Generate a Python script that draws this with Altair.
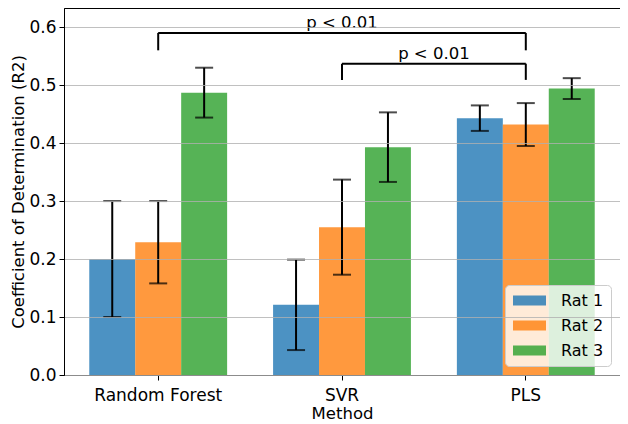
import altair as alt
import pandas as pd

methods = ["Random Forest", "SVR", "PLS"]
rats = ["Rat 1", "Rat 2", "Rat 3"]
rat1_mean = [0.200, 0.121, 0.443]
rat1_err = [0.100, 0.078, 0.022]
rat2_mean = [0.229, 0.255, 0.432]
rat2_err = [0.071, 0.082, 0.037]
rat3_mean = [0.487, 0.393, 0.494]
rat3_err = [0.043, 0.060, 0.018]
colors = ["#1f77b4", "#ff7f0e", "#2ca02c"]
y_ticks = [0.0, 0.1, 0.2, 0.3, 0.4, 0.5, 0.6]

# significance brackets (method index of the two ends)
bracket_start = [0, 1]
bracket_end = [2, 2]
bracket_y = [0.590, 0.537]
bracket_tip = [0.560, 0.509]
bracket_label = ["p < 0.01", "p < 0.01"]

FONT = "DejaVu Sans"
YTITLE = "Coefficient of Determination (R2)"
YDOM = [0, 0.633]

rows = []
for rat, means, errs in zip(rats, [rat1_mean, rat2_mean, rat3_mean], [rat1_err, rat2_err, rat3_err]):
    for m, v, e in zip(methods, means, errs):
        rows.append({"Method": m, "Rat": rat, "mean": v, "lo": v - e, "hi": v + e})
df = pd.DataFrame(rows)

br = pd.DataFrame({"start": bracket_start, "end": bracket_end, "ybar": bracket_y,
                   "ytip": bracket_tip, "label": bracket_label})

yscale = alt.Scale(domain=YDOM, nice=False, zero=True)
xscale = alt.Scale(domain=methods, paddingInner=0.25, paddingOuter=0.1375)
offscale = alt.Scale(domain=rats, paddingInner=0, paddingOuter=0)

xenc = alt.X("Method:N", scale=xscale,
             axis=alt.Axis(title="Method", labelAngle=0, grid=False, tickSize=5,
                           labelPadding=7, titlePadding=2))
xoff = alt.XOffset("Rat:N", scale=offscale)
yaxis = alt.Axis(values=y_ticks, format=".1f", grid=True, zindex=1, tickSize=5,
                 labelPadding=3, titlePadding=2)

bars = alt.Chart(df).mark_bar(opacity=0.8).encode(
    x=xenc, xOffset=xoff,
    y=alt.Y("mean:Q", scale=yscale, axis=yaxis, title=YTITLE),
    color=alt.Color("Rat:N", scale=alt.Scale(domain=rats, range=colors),
                    legend=alt.Legend(title=None, orient="bottom-right", offset=9,
                                      padding=7, fillColor="rgba(255,255,255,0.8)",
                                      strokeColor="#cccccc", cornerRadius=4,
                                      labelFontSize=16, labelFont=FONT, labelColor="black",
                                      symbolType="M-2,-0.6H2V0.6H-2Z", symbolSize=272.25,
                                      symbolOffset=9, symbolOpacity=0.8, symbolStrokeWidth=0,
                                      rowPadding=8, labelOffset=23)),
)

err = alt.Chart(df).mark_rule(color="black", strokeWidth=2).encode(
    x=xenc, xOffset=xoff,
    y=alt.Y("lo:Q", scale=yscale, axis=yaxis, title=YTITLE),
    y2="hi:Q",
)

caps = alt.Chart(df).transform_fold(["lo", "hi"], as_=["end", "val"]).mark_tick(
    color="black", size=18, thickness=2).encode(
    x=xenc, xOffset=xoff,
    y=alt.Y("val:Q", scale=yscale, axis=yaxis, title=YTITLE),
)

inner = alt.layer(bars, err, caps)

qx = alt.Scale(domain=[-0.5125, 2.5125], nice=False, zero=False)

legs = alt.Chart(br).transform_fold(["start", "end"], as_=["side", "pos"]).mark_rule(
    color="black", strokeWidth=2).encode(
    x=alt.X("pos:Q", scale=qx, axis=None),
    y=alt.Y("ytip:Q", scale=yscale, axis=yaxis, title=YTITLE),
    y2="ybar:Q",
)
hbar = alt.Chart(br).mark_rule(color="black", strokeWidth=2).encode(
    x=alt.X("start:Q", scale=qx, axis=None),
    x2="end:Q",
    y=alt.Y("ybar:Q", scale=yscale, axis=yaxis, title=YTITLE),
)
labels = alt.Chart(br).transform_calculate(mid="(datum.start + datum.end) / 2").mark_text(
    font=FONT, fontSize=16.5, color="black", baseline="bottom", dy=-2).encode(
    x=alt.X("mid:Q", scale=qx, axis=None),
    y=alt.Y("ybar:Q", scale=yscale, axis=yaxis, title=YTITLE),
    text="label:N",
)
ann = alt.layer(legs, hbar, labels)

chart = alt.layer(inner, ann).resolve_scale(x="independent").properties(
    width=556, height=367,
    autosize=alt.AutoSizeParams(type="none"),
    padding={"left": 56, "top": 0, "right": 0, "bottom": 49},
).configure_axis(
    labelFont=FONT, titleFont=FONT, labelFontSize=17, titleFontSize=16.5,
    labelColor="black", titleColor="black", titleFontWeight="normal",
    domainColor="black", tickColor="black", gridColor="#b0b0b0", gridWidth=0.8,
).configure_view(stroke="black", strokeWidth=1)

chart.save("out.html", embed_options={"renderer": "svg", "actions": False})
